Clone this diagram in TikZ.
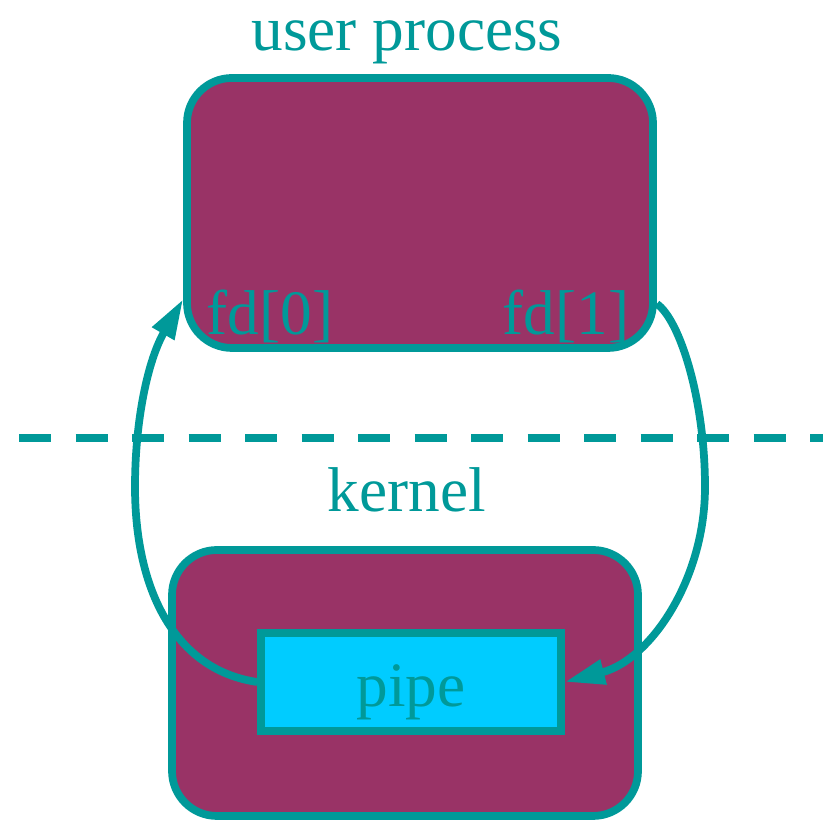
\documentclass[tikz,border=0pt]{standalone}
\usepackage{fontspec}
\setmainfont{Liberation Serif}
\usetikzlibrary{arrows.meta}

\definecolor{tealline}{HTML}{009999}
\definecolor{procfill}{HTML}{993366}
\definecolor{pipefill}{HTML}{00CCFF}

\begin{document}
\begin{tikzpicture}[every node/.style={font=\fontsize{18}{21.6}\selectfont, text=tealline},
	space/.style={draw=tealline, line width=2.2pt, fill=procfill, rounded corners=0.45cm, minimum width=4.66cm, minimum height=2.70cm},
	buffer/.style={draw=tealline, line width=2.2pt, fill=pipefill, minimum width=3.00cm, minimum height=0.88cm, text height=0.62cm, text depth=0.12cm},
	link/.style={draw=tealline, line width=2.2pt, -{Triangle[length=0.4cm,width=0.24cm]}}]
	\useasboundingbox (0,0) rectangle (8.23,8.21);

	% Nodes
	\node[space] (proc) at (4.20,6.08) {};
	\node[space, minimum height=2.66cm] (kern) at (4.05,1.38) {};
	\node[buffer] (pipe) at (4.11,1.39) {pipe};

	\node[anchor=base] (proclabel) at (4.07,7.70) {user process};
	\node[anchor=base] (kernlabel) at (4.07,3.09) {kernel};
	\node[anchor=base west, inner sep=0pt] (fd0) at (2.06,4.86) {fd[0]};
	\node[anchor=base east, inner sep=0pt] (fd1) at (6.30,4.86) {fd[1]};

	% user/kernel boundary
	\draw[tealline, line width=2.2pt, dash pattern=on 0.32cm off 0.245cm] (0.19,3.83) -- (8.23,3.83);

	% Links
	\draw[link] (pipe.west) .. controls (1.75,1.51) and (1.35,2.31) .. (1.35,3.34)
		.. controls (1.35,4.01) and (1.48,4.61) .. (proc.200);
	\draw[link] (proc.-21) .. controls (6.80,5.01) and (7.05,4.21) .. (7.05,3.34)
		.. controls (7.05,2.41) and (6.50,1.61) .. (pipe.east);
\end{tikzpicture}
\end{document}
